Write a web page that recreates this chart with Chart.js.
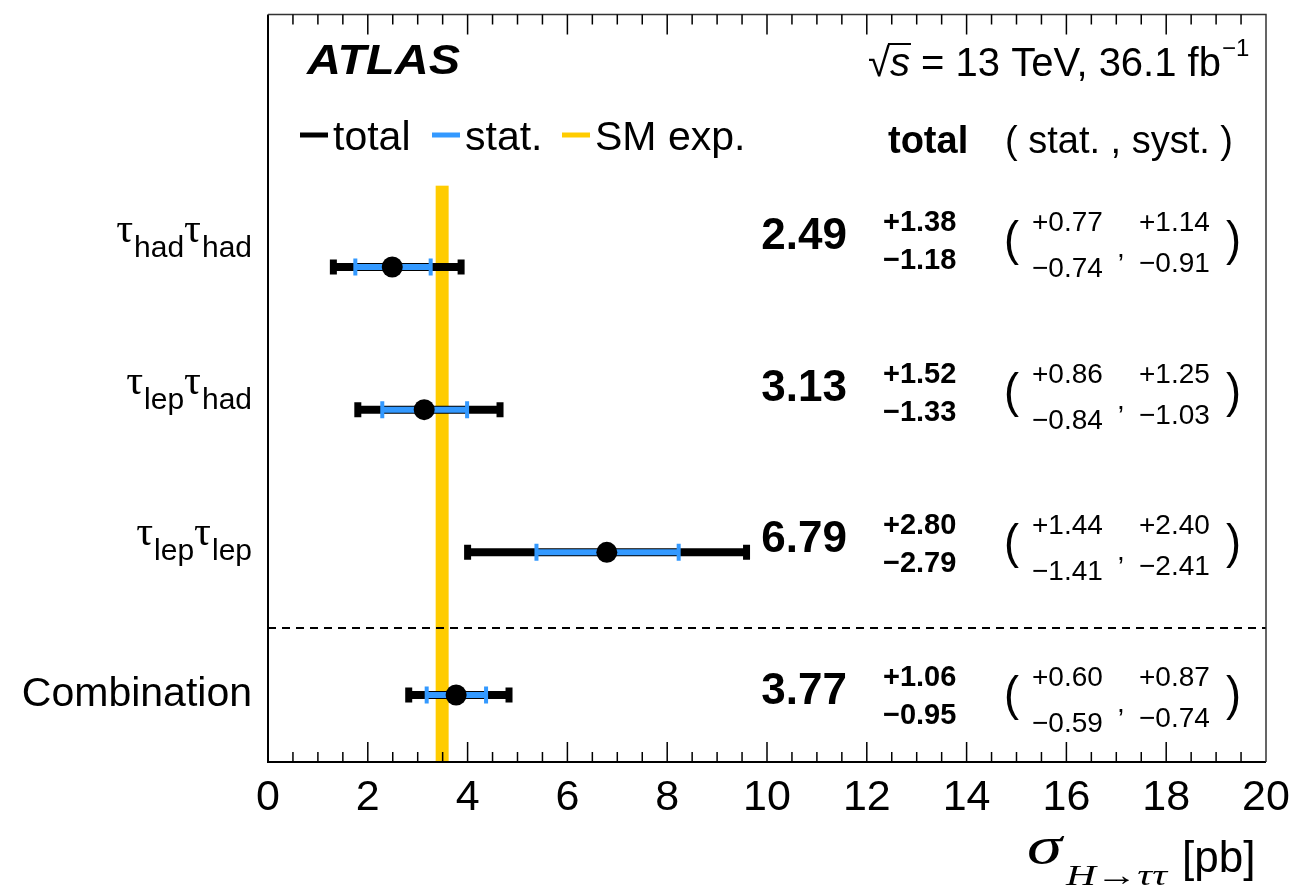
<!DOCTYPE html>
<html><head><meta charset="utf-8">
<script src="https://cdn.jsdelivr.net/npm/chart.js@4.4.0/dist/chart.umd.min.js"></script>
<style>html,body{margin:0;padding:0;background:#fff}canvas{display:block}</style>
</head><body>
<canvas id="c" width="1295" height="892"></canvas>
<script>
// ---- data ----
const channels = ['τ_{had}τ_{had}', 'τ_{lep}τ_{had}', 'τ_{lep}τ_{lep}', 'Combination'];
const central = [2.49, 3.13, 6.79, 3.77];
const totalUp = [1.38, 1.52, 2.80, 1.06];
const totalDown = [1.18, 1.33, 2.79, 0.95];
const statUp = [0.77, 0.86, 1.44, 0.60];
const statDown = [0.74, 0.84, 1.41, 0.59];
const systUp = [1.14, 1.25, 2.40, 0.87];
const systDown = [0.91, 1.03, 2.41, 0.74];
const smValue = 3.49;
const smError = 0.13;
const xTickLabels = [0, 2, 4, 6, 8, 10, 12, 14, 16, 18, 20];

// ---- style ----
const BLACK = '#000000', BLUE = '#3399FF', YELLOW = '#FFCC00';
const SANS = '"Liberation Sans", Arial, Helvetica, sans-serif';
const SERIF = '"Liberation Serif", "Times New Roman", serif';
const Y_MIN = -1.77, Y_MAX = 3.47, BAND_TOP = -0.57, SEPARATOR = 2.53;
const textRow = i => i * 1.061 - 0.207;

const datasets = [];
central.forEach((c, i) => {
  datasets.push({
    data: [{x: c - totalDown[i], y: i}, {x: c + totalUp[i], y: i}],
    showLine: true, borderColor: BLACK, borderWidth: 8,
    pointStyle: 'line', rotation: 90, pointRadius: 7.5, pointBorderWidth: 7,
    pointBorderColor: BLACK, pointBackgroundColor: BLACK, order: 3
  });
  datasets.push({
    data: [{x: c - statDown[i], y: i}, {x: c + statUp[i], y: i}],
    showLine: true, borderColor: BLUE, borderWidth: 6,
    pointStyle: 'line', rotation: 90, pointRadius: 8.5, pointBorderWidth: 4,
    pointBorderColor: BLUE, pointBackgroundColor: BLUE, order: 2
  });
});
datasets.push({
  data: central.map((c, i) => ({x: c, y: i})),
  pointStyle: 'circle', pointRadius: 10.5, backgroundColor: BLACK, borderWidth: 0, order: 1
});

function txt(ctx, s, x, y, font, align) {
  ctx.font = font; ctx.textAlign = align || 'left'; ctx.textBaseline = 'alphabetic';
  ctx.fillStyle = BLACK; ctx.fillText(s, x, y);
  return ctx.measureText(s).width;
}
// draw text stretched horizontally to a given width (left aligned)
function txtFit(ctx, s, x, y, font, width) {
  ctx.font = font; ctx.textAlign = 'left'; ctx.textBaseline = 'alphabetic';
  const w = ctx.measureText(s).width;
  ctx.save(); ctx.translate(x, y); ctx.scale(width / w, 1);
  ctx.fillStyle = BLACK; ctx.fillText(s, 0, 0); ctx.restore();
  return width;
}

const bandPlugin = {
  id: 'band',
  beforeDatasetsDraw(chart) {
    const ctx = chart.ctx, xs = chart.scales.x, ys = chart.scales.y, a = chart.chartArea;
    ctx.save();
    const x0 = xs.getPixelForValue(smValue - smError), x1 = xs.getPixelForValue(smValue + smError);
    const yt = ys.getPixelForValue(BAND_TOP);
    ctx.fillStyle = YELLOW;
    ctx.fillRect(x0, yt, x1 - x0, a.bottom - yt);
    const yd = ys.getPixelForValue(SEPARATOR);
    ctx.strokeStyle = BLACK; ctx.lineWidth = 2; ctx.setLineDash([8, 6]);
    ctx.beginPath(); ctx.moveTo(a.left, yd); ctx.lineTo(a.right, yd); ctx.stroke();
    ctx.restore();
  }
};

const decorPlugin = {
  id: 'decor',
  afterDraw(chart) {
    const ctx = chart.ctx, xs = chart.scales.x, ys = chart.scales.y, a = chart.chartArea;
    ctx.save();
    // frame
    ctx.strokeStyle = BLACK; ctx.lineWidth = 2;
    ctx.beginPath(); ctx.moveTo(a.left, a.top); ctx.lineTo(a.left, a.bottom); ctx.lineTo(a.right, a.bottom); ctx.stroke();
    ctx.strokeStyle = '#333'; ctx.lineWidth = 1.5;
    ctx.beginPath(); ctx.moveTo(a.left, a.top); ctx.lineTo(a.right, a.top); ctx.lineTo(a.right, a.bottom); ctx.stroke();
    // ticks
    ctx.strokeStyle = BLACK; ctx.lineWidth = 1.5;
    for (let v = 0.5; v < 20; v += 0.5) {
      const px = xs.getPixelForValue(v), major = Math.abs(v % 2) < 1e-9, L = major ? 20 : 10;
      ctx.beginPath();
      ctx.moveTo(px, a.bottom); ctx.lineTo(px, a.bottom - L);
      ctx.moveTo(px, a.top); ctx.lineTo(px, a.top + L);
      ctx.stroke();
    }
    // tick labels
    xTickLabels.forEach(v => txt(ctx, String(v), xs.getPixelForValue(v), 810, '43px ' + SANS, 'center'));
    // axis title
    txtFit(ctx, 'σ', 1027, 863, 'italic 52px ' + SERIF, 35);
    txtFit(ctx, 'H→ττ', 1066, 885, 'italic 30px ' + SERIF, 101);
    txt(ctx, '[pb]', 1182, 872, '44px ' + SANS);
    // ATLAS
    txtFit(ctx, 'ATLAS', 307, 74, 'italic bold 42px ' + SANS, 153);
    // sqrt s
    let x = 868;
    x += txt(ctx, '√', x, 76, '40px ' + SANS);
    const sw = txt(ctx, 's', x, 76, 'italic 40px ' + SANS);
    ctx.lineWidth = 2; ctx.beginPath(); ctx.moveTo(x - 2, 44); ctx.lineTo(x + sw + 1, 44); ctx.stroke();
    x += sw;
    x += txt(ctx, ' = 13 TeV, 36.1 fb', x, 76, '40px ' + SANS);
    txt(ctx, '−1', x + 1, 56, '24px ' + SANS);
    // legend
    const legY = 135;
    [[BLACK, 300, 'total'], [BLUE, 432, 'stat.'], [YELLOW, 562, 'SM exp.']].forEach(([col, lx, label]) => {
      ctx.strokeStyle = col; ctx.lineWidth = 5;
      ctx.beginPath(); ctx.moveTo(lx, legY); ctx.lineTo(lx + 28, legY); ctx.stroke();
      txt(ctx, label, lx + 33, 150, '41px ' + SANS);
    });
    // header
    txt(ctx, 'total', 888, 153, 'bold 38px ' + SANS);
    txt(ctx, '( stat. , syst. )', 1005, 153, '38px ' + SANS);
    // rows
    const f = v => v.toFixed(2);
    channels.forEach((name, i) => {
      const T = ys.getPixelForValue(textRow(i));
      // left label
      if (name.indexOf('_') >= 0) {
        const parts = [...name.matchAll(/([^_]+?)_\{([^}]*)\}/g)];
        let w = 0;
        const pieces = [];
        parts.forEach(m => {
          ctx.font = '42px ' + SERIF; const w1 = ctx.measureText(m[1]).width;
          ctx.font = '30px ' + SANS; const w2 = ctx.measureText(m[2]).width;
          pieces.push([m[1], w1, m[2], w2]); w += w1 + w2 + 1;
        });
        let lx = 252 - w;
        pieces.forEach(p => {
          txt(ctx, p[0], lx, T + 5, '42px ' + SERIF); lx += p[1] + 1;
          txt(ctx, p[2], lx, T + 20, '30px ' + SANS); lx += p[3];
        });
      } else {
        txt(ctx, name, 252, T + 14, '41px ' + SANS, 'right');
      }
      txt(ctx, f(central[i]), 847, T + 12, 'bold 44px ' + SANS, 'right');
      txt(ctx, '+' + f(totalUp[i]), 883, T - 6, 'bold 29px ' + SANS);
      txt(ctx, '−' + f(totalDown[i]), 883, T + 32, 'bold 29px ' + SANS);
      txtFit(ctx, '(', 1004, T + 18, '48px ' + SANS, 15);
      txtFit(ctx, ')', 1226, T + 18, '48px ' + SANS, 15);
      txt(ctx, '+' + f(statUp[i]), 1032, T - 6, '28px ' + SANS);
      txt(ctx, '−' + f(statDown[i]), 1032, T + 40, '28px ' + SANS);
      txt(ctx, ',', 1117, T + 20, '28px ' + SANS);
      txt(ctx, '+' + f(systUp[i]), 1139, T - 6, '28px ' + SANS);
      txt(ctx, '−' + f(systDown[i]), 1139, T + 35, '28px ' + SANS);
    });
    ctx.restore();
  }
};

new Chart(document.getElementById('c').getContext('2d'), {
  type: 'scatter',
  data: {datasets},
  options: {
    responsive: false, animation: false, events: [],
    layout: {padding: {left: 268, top: 11, right: 29, bottom: 130}},
    scales: {
      x: {type: 'linear', min: 0, max: 20, display: false},
      y: {type: 'linear', min: Y_MIN, max: Y_MAX, reverse: true, display: false}
    },
    plugins: {legend: {display: false}, tooltip: {enabled: false}}
  },
  plugins: [bandPlugin, decorPlugin]
});
</script>
</body></html>
